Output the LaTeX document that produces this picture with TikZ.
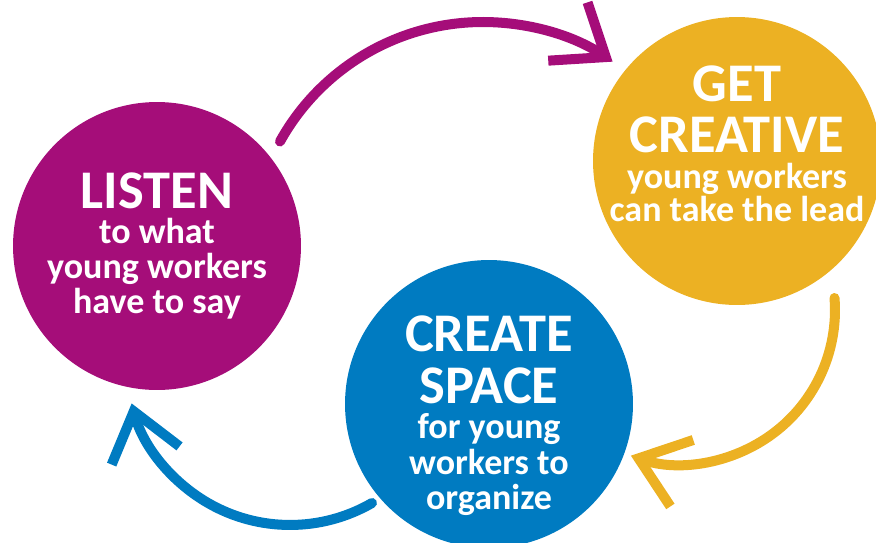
\documentclass[tikz,border=0pt]{standalone}
\usepackage{fontspec}
\setmainfont{Carlito}
\usetikzlibrary{positioning}
\usetikzlibrary{arrows.meta}

\definecolor{listenC}{RGB}{165,13,121}
\definecolor{creativeC}{RGB}{236,177,35}
\definecolor{spaceC}{RGB}{0,123,193}

\newcommand{\headfont}{\fontsize{31}{28}\selectfont}
\newcommand{\bodyfont}{\fontsize{20.5}{20}\selectfont}

\tikzset{
  stage/.style={circle, minimum size=5.76cm, inner sep=0pt},
  stagetext/.style={text=white, align=center, font=\bfseries\bodyfont, inner sep=0pt, anchor=north},
  cyclearrow/.style={line width=5.7pt, line cap=round,
    -{Straight Barb[length=26pt, width=40pt, line cap=butt, line join=miter]}}
}

\begin{document}
\begin{tikzpicture}[x=0.02cm, y=0.02cm]
\useasboundingbox (0,0) rectangle (876,-542);
\clip (0,0) rectangle (876,-542);

% the three circles
\node[stage, fill=listenC] (listen) at (157,-246) {};
\node[stage, fill=creativeC] (creative) at (737,-161) {};
\node[stage, fill=spaceC] (space) at (489,-404) {};

\node[stagetext] (listenTxt) at (157,-172)
  {{\headfont LISTEN}\\ to what\\ young workers\\ have to say};
\node[stagetext] (creativeTxt) at (737,-65)
  {{\headfont GET}\\[8pt] {\headfont CREATIVE}\\ young workers\\[-1pt] can take the lead};
\node[stagetext] (spaceTxt) at (489,-315)
  {{\headfont CREATE}\\[8.5pt] {\headfont SPACE}\\ for young\\ workers to\\ organize};

% arrows between the circles
\coordinate (listenOut) at (280,-141.5);
\coordinate (creativeOut) at (834.5,-298);
\coordinate (spaceOut) at (372,-503);
\draw[cyclearrow, listenC] (listenOut) arc[start angle=151, end angle=56, radius=4.64cm];
\draw[cyclearrow, creativeC] (creativeOut) arc[start angle=4.5, end angle=-109, radius=3.08cm];
\draw[cyclearrow, spaceC] (spaceOut) arc[start angle=-60, end angle=-165, radius=3.28cm];
\end{tikzpicture}
\end{document}
